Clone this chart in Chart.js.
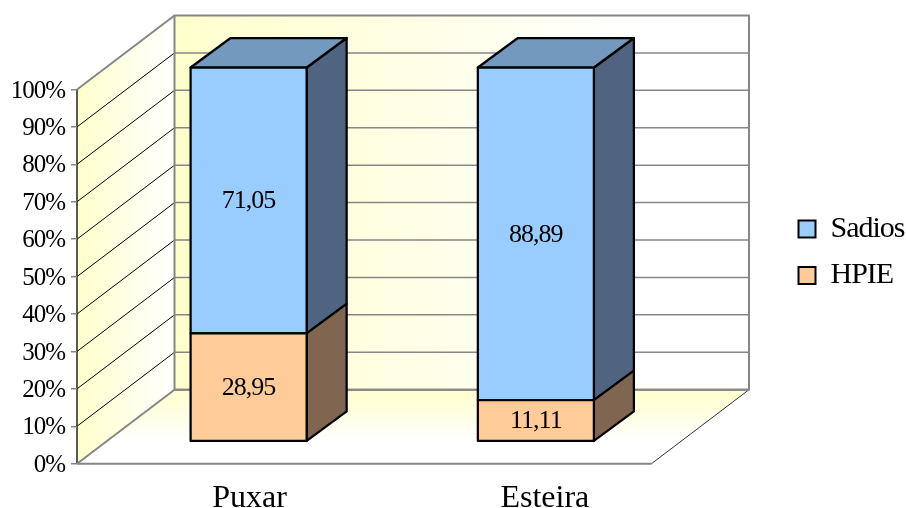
<!DOCTYPE html>
<html>
<head>
<meta charset="utf-8">
<title>Puxar / Esteira</title>
<script src="https://cdn.jsdelivr.net/npm/chart.js@4/dist/chart.umd.min.js"></script>
<style>
    html, body { margin: 0; padding: 0; background: #fff; }
    canvas { display: block; }
</style>
</head>
<body>
<canvas id="chart" width="906" height="508"></canvas>
<script>
// ---------------------------------------------------------------------------
// Data
// ---------------------------------------------------------------------------
const categories = ["Puxar", "Esteira"];
const hpieValues = [28.95, 11.11];
const sadiosValues = [71.05, 88.89];

// ---------------------------------------------------------------------------
// Projection of the box: the room recedes up and to the right
// ---------------------------------------------------------------------------
const FONT = "'Liberation Serif', 'Times New Roman', serif";
const ROOM_DX = 97.5;
const ROOM_DY = -74;
const BAR_DX = 28;     // bars stand part way into the room
const BAR_DY = -22;
const DEPTH_DX = 40;   // depth of a bar
const DEPTH_DY = -29.5;
const GREY = "#868686";
const CATEGORY_LABEL_DX = [29, 37];

function poly(ctx, points, fill, stroke, lineWidth) {
    ctx.beginPath();
    points.forEach(([x, y], i) => (i ? ctx.lineTo(x, y) : ctx.moveTo(x, y)));
    ctx.closePath();
    if (fill) {
        ctx.fillStyle = fill;
        ctx.fill();
    }
    if (stroke) {
        ctx.strokeStyle = stroke;
        ctx.lineWidth = lineWidth;
        ctx.lineJoin = "round";
        ctx.stroke();
    }
}

function line(ctx, x1, y1, x2, y2, color, width) {
    ctx.beginPath();
    ctx.moveTo(x1, y1);
    ctx.lineTo(x2, y2);
    ctx.strokeStyle = color;
    ctx.lineWidth = width;
    ctx.stroke();
}

function fade(ctx, x1, y1, x2, y2) {
    const g = ctx.createLinearGradient(x1, y1, x2, y2);
    g.addColorStop(0, "#ffffcc");
    g.addColorStop(1, "#ffffff");
    return g;
}

// Walls, floor and gridlines behind the bars
const roomPlugin = {
    id: "room",
    beforeDraw(chart) {
        const { ctx, chartArea: a, scales } = chart;
        const { left: L, right: R, top: T, bottom: B } = a;
        const dx = ROOM_DX;
        const dy = ROOM_DY;

        ctx.save();
        poly(ctx, [[L, B], [L, T], [L + dx, T + dy], [L + dx, B + dy]], fade(ctx, L, 0, L + dx, 0));
        poly(ctx, [[L + dx, T + dy], [R + dx, T + dy], [R + dx, B + dy], [L + dx, B + dy]],
            fade(ctx, L + dx, 0, R + dx - 110, 0));
        poly(ctx, [[L, B], [L + dx, B + dy], [R + dx, B + dy], [R, B]], fade(ctx, 0, B + dy, 0, B - 22));

        for (const tick of scales.y.ticks) {
            const y = scales.y.getPixelForValue(tick.value);
            if (tick.value > 0 && tick.value < 100) {
                line(ctx, L, y, L + dx, y + dy, "#000", 1);
                line(ctx, L + dx, y + dy, R + dx, y + dy, GREY, 1.5);
            }
        }

        line(ctx, L, T, L, B, "#222", 1.5);
        line(ctx, L, T, L + dx, T + dy, GREY, 2);
        line(ctx, L, B, L + dx, B + dy, GREY, 2);
        line(ctx, L, B, R, B, GREY, 2);
        line(ctx, R, B, R + dx, B + dy, "#333", 1);
        line(ctx, L + dx, B + dy, R + dx, B + dy, GREY, 2);
        poly(ctx, [[L + dx, T + dy], [R + dx, T + dy], [R + dx, B + dy], [L + dx, B + dy]], null, GREY, 2);

        // Category names sit under the bars rather than under the front edge
        ctx.font = "32px " + FONT;
        ctx.fillStyle = "#000";
        ctx.textAlign = "center";
        ctx.textBaseline = "alphabetic";
        categories.forEach((name, i) => {
            ctx.fillText(name, scales.x.getPixelForTick(i) + CATEGORY_LABEL_DX[i], B + 43);
        });
        ctx.restore();

        // The remaining text is set tall and tight
        ctx.letterSpacing = "-1px";
    },

    // Each bar element becomes a box; the flat rectangle is not drawn
    beforeDatasetDraw(chart, args) {
        const { ctx } = chart;
        const ds = chart.data.datasets[args.index];
        const isTop = args.index === chart.data.datasets.length - 1;

        ctx.save();
        args.meta.data.forEach((bar) => {
            const x0 = bar.x - bar.width / 2 + BAR_DX;
            const x1 = bar.x + bar.width / 2 + BAR_DX;
            const y0 = bar.y + BAR_DY;
            const y1 = bar.base + BAR_DY;

            poly(ctx, [[x1, y0], [x1 + DEPTH_DX, y0 + DEPTH_DY], [x1 + DEPTH_DX, y1 + DEPTH_DY], [x1, y1]],
                ds.sideColor, "#000", 2.25);
            if (isTop) {
                poly(ctx, [[x0, y0], [x0 + DEPTH_DX, y0 + DEPTH_DY], [x1 + DEPTH_DX, y0 + DEPTH_DY], [x1, y0]],
                    ds.topColor, "#000", 2.25);
            }
            poly(ctx, [[x0, y0], [x1, y0], [x1, y1], [x0, y1]], ds.backgroundColor, "#000", 2.25);
        });
        ctx.restore();
        return false;
    },

    afterDatasetsDraw(chart) {
        const { ctx } = chart;
        ctx.save();
        ctx.font = "26px " + FONT;
        ctx.fillStyle = "#000";
        ctx.textAlign = "center";
        ctx.textBaseline = "middle";
        chart.data.datasets.forEach((ds, i) => {
            chart.getDatasetMeta(i).data.forEach((bar, j) => {
                const text = ds.data[j].toFixed(2).replace(".", ",");
                ctx.fillText(text, bar.x + BAR_DX, (bar.y + bar.base) / 2 + BAR_DY + 1);
            });
        });
        ctx.restore();
    },

    // Legend sits to the right of the room, above the plot's vertical centre
    afterLayout(chart) {
        const legend = chart.legend;
        legend.top -= 46.5;
        legend.bottom -= 46.5;
        legend.left = 782;
        legend.right = chart.width;
    },
};

new Chart(document.getElementById("chart"), {
    type: "bar",
    data: {
        labels: categories,
        datasets: [
            {
                label: "HPIE",
                data: hpieValues,
                backgroundColor: "#ffcc99",
                sideColor: "#806650",
                topColor: "#bf9973",
                borderColor: "#000",
                borderWidth: 2,
            },
            {
                label: "Sadios",
                data: sadiosValues,
                backgroundColor: "#99ccff",
                sideColor: "#4f6480",
                topColor: "#7399bf",
                borderColor: "#000",
                borderWidth: 2,
            },
        ],
    },
    options: {
        responsive: false,
        animation: false,
        events: [],
        layout: { padding: { left: 0, top: 89.5, right: 116, bottom: 0 } },
        datasets: { bar: { categoryPercentage: 1, barPercentage: 0.404 } },
        plugins: {
            tooltip: { enabled: false },
            legend: {
                position: "right",
                reverse: true,
                labels: {
                    boxWidth: 17,
                    boxHeight: 17,
                    padding: 16.5,
                    color: "#000",
                    font: { family: FONT, size: 30 },
                },
            },
        },
        scales: {
            x: {
                stacked: true,
                grid: { display: false },
                border: { display: false },
                ticks: { display: false },
                afterFit(scale) {
                    scale.height = 44.3;
                },
            },
            y: {
                stacked: true,
                min: 0,
                max: 100,
                grid: { drawOnChartArea: false, color: GREY, lineWidth: 1.5, tickLength: 6 },
                border: { display: false },
                ticks: {
                    stepSize: 10,
                    color: "#000",
                    padding: 6,
                    labelOffset: 1.5,
                    font: { family: FONT, size: 25 },
                    callback: (v) => v + "%",
                },
                afterFit(scale) {
                    scale.width = 77;
                },
            },
        },
    },
    plugins: [roomPlugin],
});
</script>
</body>
</html>
